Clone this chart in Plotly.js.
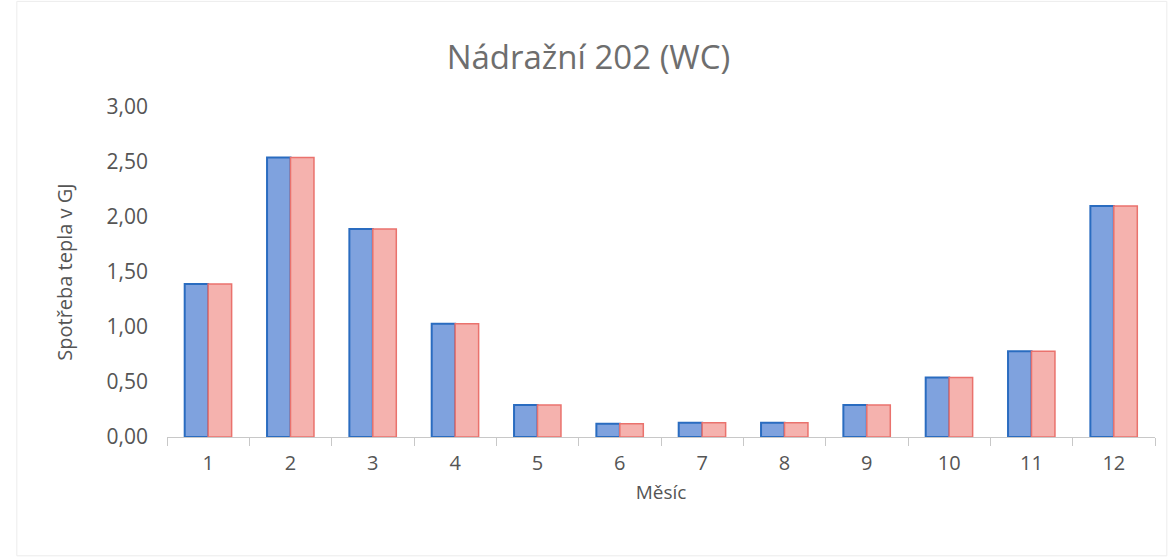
<!DOCTYPE html>
<html>
<head>
<meta charset="utf-8">
<script src="https://cdn.plot.ly/plotly-3.0.1.min.js"></script>
<style>html,body{margin:0;padding:0;background:#fff;}#chart{width:1170px;height:558px;}</style>
</head>
<body>
<div id="chart"></div>
<script>
const months = ["1","2","3","4","5","6","7","8","9","10","11","12"];
const seriesA = [1.39, 2.54, 1.89, 1.03, 0.29, 0.12, 0.13, 0.13, 0.29, 0.54, 0.78, 2.10];
const seriesB = [1.39, 2.54, 1.89, 1.03, 0.29, 0.12, 0.13, 0.13, 0.29, 0.54, 0.78, 2.10];
const yTicks = [0, 0.5, 1, 1.5, 2, 2.5, 3];
const yTickText = ["0,00","0,50","1,00","1,50","2,00","2,50","3,00"];

const font = "'Open Sans', sans-serif";
const traces = [
  {type:"bar", x:months, y:seriesA, name:"A",
   marker:{color:"#7fa2de", line:{color:"#2a6cc0", width:2}}},
  {type:"bar", x:months, y:seriesB, name:"B",
   marker:{color:"#f5b2ae", line:{color:"#ea726d", width:1.5}}}
];
const layout = {
  width:1170, height:558,
  margin:{l:167, r:15, t:107, b:121},
  paper_bgcolor:"#fff", plot_bgcolor:"#fff",
  showlegend:false,
  barmode:"group", bargap:0.43, bargroupgap:0,
  title:{text:"Nádražní 202 (WC)", x:0.503, xanchor:"center", y:0.897, yanchor:"middle",
         font:{family:font, size:33, color:"#6e6e6e"}},
  xaxis:{type:"category", showline:true, linecolor:"#c8c8c8", linewidth:1,
         ticks:"outside", tickson:"boundaries", ticklen:8, tickcolor:"#c8c8c8",
         ticklabelstandoff:8,
         tickfont:{family:font, size:20, color:"#555"},
         title:{text:"Měsíc", font:{family:font, size:19, color:"#555"}, standoff:10},
         showgrid:false, zeroline:false},
  yaxis:{range:[0,3], tickvals:yTicks, ticktext:yTickText, showgrid:false, zeroline:false,
         showline:false, ticks:"", ticklabelstandoff:18,
         tickfont:{family:font, size:21, color:"#555"},
         title:{text:"Spotřeba tepla v GJ", font:{family:font, size:20, color:"#555"}, standoff:28}},
  shapes:[{type:"rect", xref:"paper", yref:"paper", x0:-0.152, x1:1.012, y0:-0.36, y1:1.32,
           line:{color:"#ececec", width:1}}]
};
Plotly.newPlot("chart", traces, layout, {displayModeBar:false, staticPlot:true});
</script>
</body>
</html>
